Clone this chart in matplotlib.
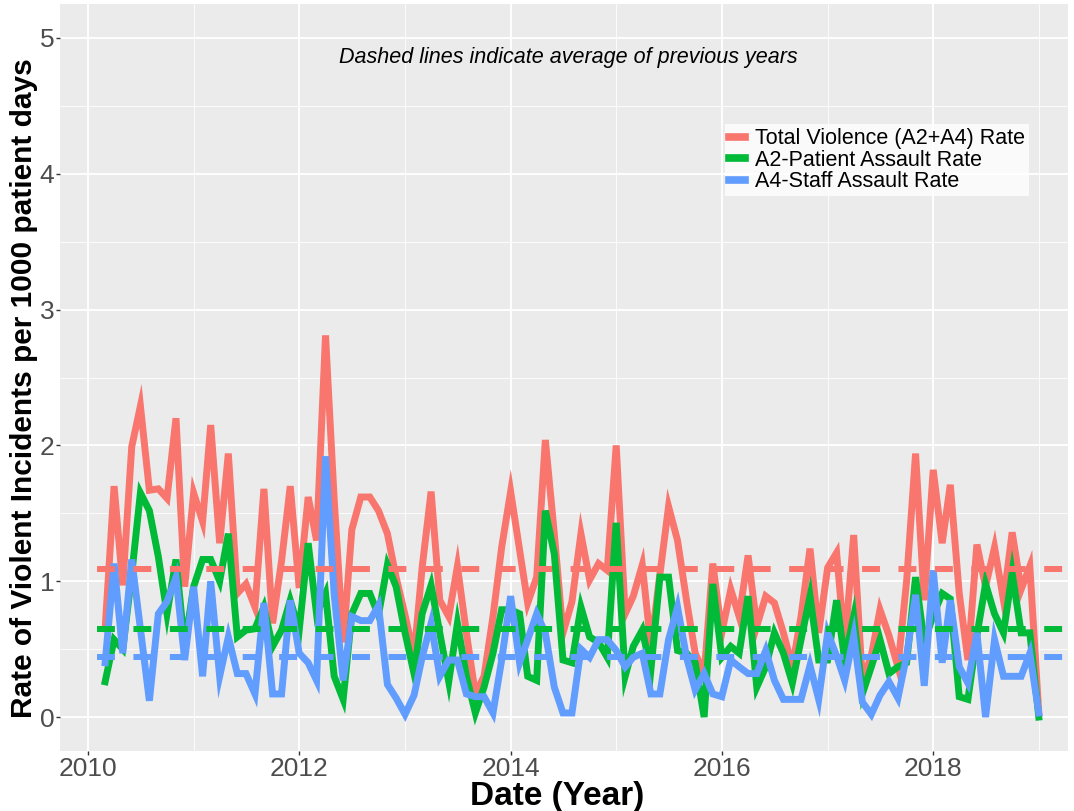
import matplotlib
matplotlib.use("Agg")
import matplotlib.pyplot as plt
from matplotlib.lines import Line2D
from matplotlib import font_manager as fm
import pandas as pd

# ---------------- data (monthly rates, Mar 2010 - Jan 2019) ----------------
start_month = "2010-03-01"

total_rate = [
    0.65, 1.70, 0.97, 1.99, 2.29, 1.67, 1.68, 1.61, 2.20, 0.96,
    1.65, 1.44, 2.15, 1.28, 1.94, 0.91, 0.98, 0.81, 1.68, 0.69, 1.15, 1.70,
    0.95, 1.62, 1.30, 2.81, 1.60, 0.55, 1.38, 1.62, 1.62, 1.52, 1.35, 1.03,
    0.75, 0.45, 1.10, 1.66, 0.86, 0.74, 1.11, 0.62, 0.17, 0.30, 0.74, 1.25,
    1.66, 1.23, 0.84, 1.03, 2.04, 1.35, 0.62, 0.85, 1.35, 1.01, 1.13, 1.08,
    2.00, 0.76, 0.89, 1.12, 0.52, 1.05, 1.55, 1.30, 0.86, 0.47, 0.32, 1.13,
    0.62, 0.94, 0.74, 1.19, 0.67, 0.89, 0.84, 0.62, 0.37, 0.74, 1.24, 0.62,
    1.10, 1.21, 0.52, 1.34, 0.27, 0.45, 0.79, 0.60, 0.37, 1.00, 1.94, 0.86,
    1.82, 1.28, 1.71, 0.91, 0.42, 1.27, 0.96, 1.25, 0.86, 1.36, 0.94, 1.11,
    0.03,
]

patient_rate = [
    0.26, 0.57, 0.50, 1.05, 1.65, 1.52, 1.18, 0.76, 1.16, 0.52,
    0.96, 1.16, 1.16, 1.00, 1.35, 0.59, 0.64, 0.65, 0.81, 0.52, 0.64, 0.86,
    0.64, 1.28, 0.76, 0.91, 0.30, 0.13, 0.76, 0.91, 0.91, 0.75, 1.12, 0.96,
    0.62, 0.32, 0.76, 0.97, 0.62, 0.26, 0.69, 0.30, 0.03, 0.22, 0.47, 0.79,
    0.79, 0.76, 0.30, 0.27, 1.52, 1.20, 0.42, 0.40, 0.81, 0.59, 0.55, 0.44,
    1.43, 0.30, 0.52, 0.64, 0.35, 1.03, 1.03, 0.49, 0.47, 0.40, 0.00, 0.98,
    0.44, 0.52, 0.47, 0.89, 0.22, 0.37, 0.62, 0.47, 0.25, 0.57, 0.89, 0.42,
    0.42, 0.86, 0.42, 0.74, 0.17, 0.37, 0.57, 0.32, 0.37, 0.40, 1.03, 0.55,
    0.75, 0.91, 0.87, 0.15, 0.13, 0.60, 0.98, 0.76, 0.62, 1.06, 0.62, 0.62,
    0.00,
]

staff_rate = [
    0.40, 1.13, 0.47, 1.16, 0.65, 0.12, 0.76, 0.85, 1.03, 0.42,
    0.96, 0.30, 1.00, 0.30, 0.59, 0.32, 0.32, 0.17, 0.84, 0.17, 0.17, 0.86,
    0.47, 0.40, 0.27, 1.92, 0.90, 0.27, 0.74, 0.71, 0.71, 0.82, 0.24, 0.14,
    0.02, 0.16, 0.44, 0.69, 0.30, 0.42, 0.42, 0.17, 0.15, 0.15, 0.03, 0.42,
    0.89, 0.40, 0.57, 0.76, 0.62, 0.22, 0.03, 0.03, 0.50, 0.44, 0.57, 0.57,
    0.49, 0.37, 0.44, 0.47, 0.17, 0.17, 0.57, 0.81, 0.44, 0.20, 0.32, 0.17,
    0.15, 0.42, 0.37, 0.32, 0.32, 0.49, 0.27, 0.13, 0.13, 0.13, 0.38, 0.13,
    0.62, 0.45, 0.27, 0.60, 0.11, 0.02, 0.16, 0.26, 0.14, 0.45, 0.90, 0.23,
    1.08, 0.40, 0.86, 0.37, 0.25, 0.62, 0.00, 0.57, 0.30, 0.30, 0.30, 0.47,
    0.03,
]

avg_total = 1.09
avg_patient = 0.65
avg_staff = 0.44

series_labels = ["Total Violence (A2+A4) Rate", "A2-Patient Assault Rate", "A4-Staff Assault Rate"]
series_colors = ["#F8766D", "#00BA38", "#619CFF"]
year_ticks = [2010, 2012, 2014, 2016, 2018]

# ---------------- fonts ----------------
names = {f.name for f in fm.fontManager.ttflist}
base_font = "Liberation Sans"
narrow_font = "Liberation Sans Narrow" if "Liberation Sans Narrow" in names else base_font
plt.rcParams["font.family"] = [base_font, "DejaVu Sans"]

dates = pd.date_range(start_month, periods=len(total_rate), freq="MS")

W, H = 1074, 811
fig = plt.figure(figsize=(W / 100, H / 100), dpi=100)
fig.patch.set_facecolor("white")
ax = fig.add_axes([60 / W, 1 - 751 / H, (1068 - 60) / W, (751 - 4) / H])
ax.set_facecolor("#EBEBEB")
for s in ax.spines.values():
    s.set_visible(False)

# axes scales
ax.set_ylim(-0.25, 5.25)
ax.set_xlim(pd.Timestamp("2009-09-26"), pd.Timestamp("2019-04-12"))
ax.set_yticks([0, 1, 2, 3, 4, 5])
ax.set_yticks([0.5, 1.5, 2.5, 3.5, 4.5], minor=True)
ax.set_xticks([pd.Timestamp(f"{y}-01-01") for y in year_ticks])
ax.set_xticklabels([str(y) for y in year_ticks])
ax.set_xticks([pd.Timestamp(f"{y}-01-01") for y in range(2011, 2020, 2)], minor=True)
ax.grid(which="major", color="white", lw=1.3)
ax.grid(which="minor", color="white", lw=0.6)
ax.set_axisbelow(True)
ax.tick_params(which="major", length=3, width=1.0, color="#333333",
               labelcolor="#4D4D4D", labelsize=19, pad=1)
ax.tick_params(which="minor", length=0)
for lab in ax.get_xticklabels() + ax.get_yticklabels():
    lab.set_family([narrow_font, "DejaVu Sans"])

# series lines
for vals, col in zip([total_rate, patient_rate, staff_rate], series_colors):
    ax.plot(dates, vals, color=col, lw=5.0, solid_joinstyle="miter", zorder=3)

# dashed averages
dash_x = [pd.Timestamp("2010-02-01"), pd.Timestamp("2019-12-01")]
for avg, col in zip([avg_total, avg_patient, avg_staff], series_colors):
    ax.plot(dash_x, [avg, avg], color=col, lw=4.3, ls=(0, (3.0, 3.1)),
            dash_capstyle="butt", zorder=4)

# annotation
fig.text(568 / W, 1 - 58 / H, "Dashed lines indicate average of previous years",
         ha="center", va="center", fontsize=15.5, style="italic", color="black")

# legend
handles = [Line2D([0], [0], color=c, lw=5.5) for c in series_colors]
leg = fig.legend(handles, series_labels, loc="upper left",
                 bbox_to_anchor=(725 / W, 1 - 124 / H), frameon=True,
                 fancybox=False, fontsize=15.5, handlelength=0.75,
                 handletextpad=0.45, labelspacing=0.02, borderpad=0.2,
                 borderaxespad=0)
leg.get_frame().set_facecolor("white")
leg.get_frame().set_edgecolor("white")
leg.get_frame().set_linewidth(0)

# axis titles
fig.text(24 / W, 1 - 388 / H, "Rate of Violent Incidents per 1000 patient days",
         rotation=90, ha="center", va="center", fontsize=21.5, fontweight="bold")
fig.text(557 / W, 1 - 796 / H, "Date (Year)", ha="center", va="center",
         fontsize=24, fontweight="bold")

fig.savefig("out.png", dpi=100)
